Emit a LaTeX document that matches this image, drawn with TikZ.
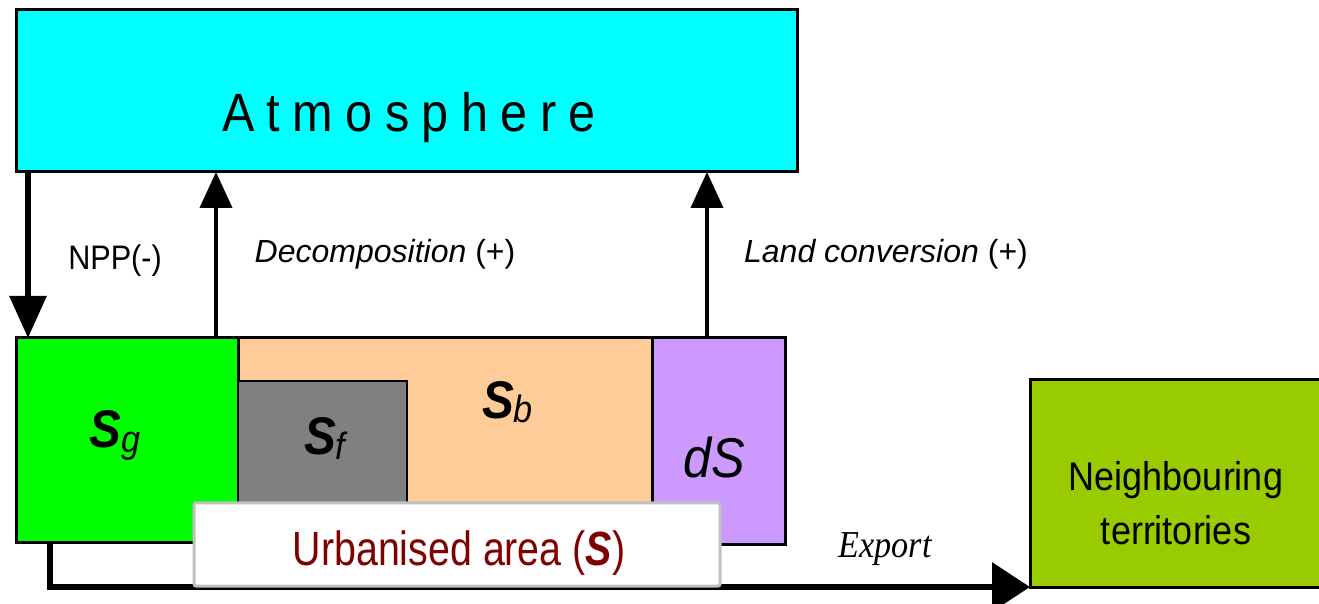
\documentclass[tikz,border=0pt]{standalone}
\usepackage{fontspec}
\setmainfont{Liberation Sans}[FakeStretch=0.9]
\newfontfamily\plainfont{Liberation Sans}
\newfontfamily\atmfont{Liberation Sans}[FakeStretch=0.9,LetterSpace=23]
\newfontfamily\urbfont{Liberation Sans}[FakeStretch=0.82]
\newfontfamily\expfont{Liberation Serif}[FakeStretch=0.9]
\usetikzlibrary{arrows.meta,fit}
\definecolor{atmcol}{HTML}{00FFFF}
\definecolor{sgcol}{HTML}{00FF00}
\definecolor{sbcol}{HTML}{FFCC99}
\definecolor{sfcol}{HTML}{808080}
\definecolor{dscol}{HTML}{CC99FF}
\definecolor{nbcol}{HTML}{99CC00}
\definecolor{urbcol}{HTML}{800000}
\definecolor{urbline}{HTML}{C0C0C0}
\begin{document}
\begin{tikzpicture}[x=0.5pt,y=-0.5pt,
  box/.style={draw=black, line width=1.5pt, inner sep=0pt, outer sep=0pt},
  flow/.style={line width=2pt, -{Triangle[length=18pt,width=16pt]}},
  thickflow/.style={line width=3pt, -{Triangle[length=21pt,width=18pt]}},
  exportflow/.style={line width=3.25pt, -{Triangle[length=19pt,width=24pt]}},
  lbl/.style={inner sep=0pt, outer sep=0pt},
  sym/.style={lbl, anchor=base west, font=\fontsize{26.5}{30}\selectfont\bfseries\itshape}]
\useasboundingbox (0,0) rectangle (1319,604);
% boxes
\node[box, fill=atmcol, fit={(16,10)(797,172)}] (atm) {};
\node[box, fill=sgcol, fit={(16,338)(238,543)}] (sg) {};
\node[box, fill=sbcol, fit={(238,338)(652,543)}] (sb) {};
\node[box, fill=sfcol, line width=1pt, fit={(238,381)(407,543)}] (sf) {};
\node[box, fill=dscol, fit={(652,338)(785,545)}] (ds) {};
\node[box, fill=nbcol, fit={(1030,380)(1322,587)}] (nb) {};
% connector positions
\coordinate (xnpp) at (28,0);
\coordinate (xdec) at (216,0);
\coordinate (xland) at (707,0);
\coordinate (exs) at (50,587);
% arrows
\draw[thickflow] (atm.south -| xnpp) -- (sg.north -| xnpp);
\draw[flow] (sg.north -| xdec) -- (atm.south -| xdec);
\draw[flow] (ds.north -| xland) -- (atm.south -| xland);
\draw[exportflow, line join=miter] (sg.south -| exs) -- (exs) -- (exs -| nb.west);
% urbanised area label box
\node[draw=urbline, fill=white, line width=1.5pt, rounded corners=1pt, inner sep=0pt, fit={(194,503)(720,586)}] (urb) {};
% texts
\node[lbl, anchor=base, font=\atmfont\fontsize{27}{30}\selectfont] (atmtxt) at (409,132) {Atmosphere};
\node[lbl, anchor=base, font=\fontsize{17}{20}\selectfont] (npptxt) at (115,270) {NPP(-)};
\node[lbl, anchor=base, font=\plainfont\fontsize{16}{19}\selectfont] (dectxt) at (385,263) {\textit{Decomposition} (+)};
\node[lbl, anchor=base, font=\plainfont\fontsize{16}{19}\selectfont] (landtxt) at (886,263) {\textit{Land conversion} (+)};
\node[sym] (sgtxt) at (90,448) {S\raisebox{-2pt}{\fontsize{19}{20}\selectfont\mdseries\itshape g}};
\node[sym] (sftxt) at (304,455) {S\raisebox{-2pt}{\fontsize{19}{20}\selectfont\mdseries\itshape f}};
\node[sym] (sbtxt) at (482,419) {S\raisebox{-2pt}{\fontsize{19}{20}\selectfont\mdseries\itshape b}};
\node[lbl, anchor=base west, font=\fontsize{28}{30}\selectfont\itshape] (dstxt) at (683,478) {dS};
\node[lbl, anchor=base, text=urbcol, font=\urbfont\fontsize{24}{28}\selectfont] (urbtxt) at (459,566) {Urbanised area (\textbf{\textit{S}})};
\node[lbl, anchor=base, font=\expfont\itshape\fontsize{19}{22}\selectfont] (exptxt) at (885,558) {Export};
\node[lbl, align=center, font=\fontsize{20}{27}\selectfont] (nbtxt) at (1176,503) {Neighbouring\\territories};
\end{tikzpicture}
\end{document}
